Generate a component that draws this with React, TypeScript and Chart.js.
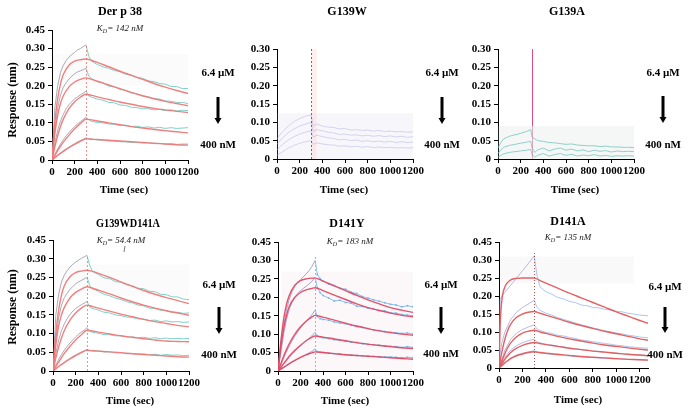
import React, { useEffect, useRef } from 'react';
import { Chart, registerables } from 'chart.js';

Chart.register(...registerables);

const FONT = '"Liberation Serif", "Times New Roman", Times, serif';
const W = 692;
const H = 414;
const AXW = 30;
const AXH = 30;

// ---------- tick labels ----------
const Y_LABELS_TALL = ['0', '0.05', '0.10', '0.15', '0.20', '0.25', '0.30', '0.45'];
const Y_LABELS_SHORT = ['0', '0.05', '0.10', '0.15', '0.20', '0.25', '0.30'];
const TITLES = ['Der p 38', 'G139W', 'G139A', 'G139WD141A', 'D141Y', 'D141A'];
const KD_TEXT = ['142 nM', '', '', '54.4 nM', '183 nM', '135 nM'];
const HIGH_CONC = '6.4 µM';
const LOW_CONC = '400 nM';

// ---------- Der p 38 ----------
const FIT_T1 = [0, 25, 50, 75, 100, 150, 200, 250, 300, 350, 400, 500, 600, 700, 800, 900, 1000, 1100, 1200];
const F1A = [0, 0.10, 0.165, 0.205, 0.23, 0.255, 0.266, 0.27, 0.272, 0.268, 0.263, 0.251, 0.239, 0.228, 0.217, 0.206, 0.196, 0.187, 0.179];
const F1B = [0, 0.07, 0.12, 0.152, 0.173, 0.197, 0.21, 0.217, 0.221, 0.217, 0.212, 0.202, 0.192, 0.182, 0.173, 0.165, 0.158, 0.152, 0.146];
const F1C = [0, 0.035, 0.065, 0.09, 0.11, 0.138, 0.157, 0.169, 0.177, 0.174, 0.17, 0.163, 0.156, 0.15, 0.144, 0.139, 0.135, 0.131, 0.128];
const F1D = [0, 0.012, 0.025, 0.037, 0.048, 0.067, 0.084, 0.098, 0.11, 0.108, 0.105, 0.1, 0.095, 0.09, 0.086, 0.082, 0.079, 0.076, 0.073];
const F1E = [0, 0.006, 0.012, 0.018, 0.023, 0.033, 0.042, 0.05, 0.057, 0.056, 0.055, 0.053, 0.051, 0.049, 0.047, 0.045, 0.043, 0.041, 0.04];

const MEAS_T1 = [0, 25, 50, 75, 100, 125, 150, 175, 200, 225, 250, 275, 300, 325, 350, 400, 450, 500, 550, 600, 650, 700, 750, 800, 850, 900, 950, 1000, 1050, 1100, 1150, 1200];
const M1A = [0, 0.14, 0.2, 0.236, 0.255, 0.268, 0.277, 0.284, 0.29, 0.296, 0.3, 0.305, 0.31, 0.279, 0.266, 0.257, 0.251, 0.247, 0.241, 0.238, 0.231, 0.229, 0.222, 0.22, 0.213, 0.211, 0.206, 0.204, 0.198, 0.198, 0.192, 0.193];
const M1B = [0, 0.08, 0.14, 0.175, 0.196, 0.208, 0.218, 0.226, 0.232, 0.237, 0.24, 0.243, 0.247, 0.226, 0.219, 0.211, 0.208, 0.199, 0.197, 0.19, 0.187, 0.18, 0.178, 0.172, 0.17, 0.165, 0.164, 0.159, 0.158, 0.155, 0.155, 0.152];
const M1C = [0, 0.045, 0.08, 0.105, 0.123, 0.138, 0.149, 0.157, 0.165, 0.17, 0.175, 0.18, 0.185, 0.172, 0.169, 0.164, 0.161, 0.155, 0.154, 0.148, 0.147, 0.142, 0.141, 0.138, 0.138, 0.135, 0.136, 0.133, 0.135, 0.132, 0.134, 0.133];
const M1D = [0, 0.015, 0.03, 0.043, 0.055, 0.065, 0.074, 0.083, 0.09, 0.097, 0.103, 0.109, 0.115, 0.108, 0.104, 0.101, 0.1, 0.097, 0.096, 0.093, 0.094, 0.09, 0.091, 0.088, 0.089, 0.086, 0.088, 0.085, 0.087, 0.085, 0.086, 0.087];
const M1E = [0, 0.006, 0.013, 0.019, 0.025, 0.03, 0.035, 0.04, 0.044, 0.049, 0.052, 0.056, 0.06, 0.057, 0.056, 0.054, 0.054, 0.051, 0.051, 0.049, 0.049, 0.047, 0.048, 0.046, 0.046, 0.044, 0.045, 0.043, 0.044, 0.042, 0.043, 0.043];

// ---------- G139W ----------
const MEAS_T2 = [0, 50, 100, 150, 200, 250, 300, 320, 350, 400, 450, 500, 550, 600, 650, 700, 750, 800, 850, 900, 950, 1000, 1050, 1100, 1150, 1200];
const M2A = [0.055, 0.075, 0.09, 0.102, 0.11, 0.117, 0.12, 0.09, 0.095, 0.09, 0.087, 0.086, 0.082, 0.083, 0.079, 0.08, 0.078, 0.079, 0.076, 0.078, 0.075, 0.076, 0.074, 0.075, 0.073, 0.074];
const M2B = [0.04, 0.058, 0.072, 0.082, 0.09, 0.095, 0.1, 0.075, 0.08, 0.077, 0.073, 0.071, 0.067, 0.068, 0.065, 0.066, 0.063, 0.065, 0.062, 0.064, 0.061, 0.063, 0.06, 0.062, 0.059, 0.061];
const M2C = [0.025, 0.04, 0.052, 0.061, 0.068, 0.073, 0.077, 0.06, 0.065, 0.061, 0.058, 0.056, 0.052, 0.054, 0.05, 0.052, 0.048, 0.05, 0.047, 0.049, 0.046, 0.048, 0.045, 0.047, 0.045, 0.046];
const M2D = [0.01, 0.02, 0.03, 0.037, 0.043, 0.047, 0.05, 0.04, 0.044, 0.041, 0.039, 0.038, 0.035, 0.036, 0.033, 0.035, 0.032, 0.034, 0.031, 0.033, 0.031, 0.032, 0.03, 0.031, 0.03, 0.031];

// ---------- G139A ----------
const MEAS_T3 = [0, 25, 50, 100, 150, 200, 250, 290, 300, 325, 350, 400, 450, 500, 550, 600, 650, 700, 750, 800, 850, 900, 950, 1000, 1050, 1100, 1150, 1200];
const M3A = [0.03, 0.045, 0.055, 0.062, 0.066, 0.07, 0.075, 0.08, 0.06, 0.055, 0.05, 0.048, 0.045, 0.044, 0.042, 0.04, 0.041, 0.038, 0.037, 0.036, 0.036, 0.034, 0.035, 0.033, 0.033, 0.032, 0.032, 0.031];
const M3B = [0.015, 0.025, 0.032, 0.037, 0.04, 0.043, 0.046, 0.048, 0.03, 0.018, 0.025, 0.03, 0.022, 0.027, 0.03, 0.024, 0.027, 0.022, 0.025, 0.02, 0.024, 0.021, 0.023, 0.019, 0.022, 0.02, 0.021, 0.02];
const M3C = [0.005, 0.01, 0.014, 0.018, 0.02, 0.022, 0.024, 0.026, 0.012, 0.005, 0.01, 0.015, 0.008, 0.012, 0.015, 0.01, 0.013, 0.008, 0.011, 0.009, 0.012, 0.008, 0.01, 0.007, 0.009, 0.008, 0.009, 0.008];

// ---------- G139WD141A ----------
const F4A = [0, 0.10, 0.163, 0.203, 0.228, 0.252, 0.263, 0.267, 0.269, 0.266, 0.261, 0.25, 0.238, 0.226, 0.215, 0.205, 0.196, 0.188, 0.18];
const F4B = [0, 0.07, 0.12, 0.15, 0.17, 0.195, 0.21, 0.219, 0.225, 0.221, 0.216, 0.206, 0.195, 0.185, 0.176, 0.168, 0.161, 0.155, 0.149];
const F4C = [0, 0.035, 0.064, 0.088, 0.108, 0.136, 0.155, 0.168, 0.176, 0.172, 0.168, 0.16, 0.152, 0.145, 0.138, 0.132, 0.127, 0.122, 0.118];
const F4D = [0, 0.012, 0.024, 0.036, 0.047, 0.066, 0.083, 0.097, 0.109, 0.107, 0.104, 0.099, 0.094, 0.09, 0.086, 0.083, 0.08, 0.079, 0.078];
const F4E = [0, 0.006, 0.012, 0.017, 0.022, 0.032, 0.041, 0.049, 0.055, 0.054, 0.053, 0.051, 0.049, 0.046, 0.044, 0.042, 0.04, 0.038, 0.037];
const M4A = [0, 0.15, 0.205, 0.238, 0.256, 0.268, 0.278, 0.285, 0.291, 0.296, 0.301, 0.305, 0.309, 0.281, 0.265, 0.258, 0.249, 0.247, 0.239, 0.237, 0.23, 0.228, 0.221, 0.22, 0.213, 0.212, 0.205, 0.204, 0.198, 0.198, 0.192, 0.191];
const M4B = [0, 0.082, 0.142, 0.176, 0.196, 0.208, 0.218, 0.226, 0.233, 0.238, 0.242, 0.246, 0.25, 0.228, 0.22, 0.213, 0.205, 0.201, 0.195, 0.191, 0.185, 0.182, 0.176, 0.174, 0.168, 0.167, 0.162, 0.161, 0.157, 0.157, 0.154, 0.155];
const M4C = [0, 0.047, 0.083, 0.108, 0.126, 0.14, 0.151, 0.16, 0.167, 0.172, 0.177, 0.181, 0.186, 0.17, 0.167, 0.163, 0.157, 0.155, 0.15, 0.148, 0.144, 0.143, 0.139, 0.139, 0.135, 0.136, 0.132, 0.134, 0.131, 0.132, 0.13, 0.131];
const M4D = [0, 0.016, 0.031, 0.044, 0.056, 0.066, 0.075, 0.083, 0.091, 0.098, 0.104, 0.109, 0.116, 0.106, 0.103, 0.101, 0.097, 0.097, 0.094, 0.094, 0.091, 0.091, 0.089, 0.09, 0.087, 0.089, 0.086, 0.088, 0.086, 0.087, 0.086, 0.087];
const M4E = [0, 0.006, 0.012, 0.018, 0.024, 0.029, 0.034, 0.039, 0.043, 0.047, 0.051, 0.054, 0.058, 0.055, 0.054, 0.054, 0.051, 0.051, 0.048, 0.049, 0.046, 0.047, 0.045, 0.046, 0.043, 0.045, 0.042, 0.044, 0.042, 0.043, 0.041, 0.042];

// ---------- D141Y ----------
const FIT_T5 = [0, 25, 50, 75, 100, 150, 200, 250, 300, 330, 400, 500, 600, 700, 800, 900, 1000, 1100, 1200];
const F5A = [0, 0.08, 0.14, 0.18, 0.205, 0.233, 0.245, 0.25, 0.252, 0.252, 0.244, 0.231, 0.218, 0.205, 0.193, 0.182, 0.172, 0.165, 0.159];
const F5B = [0, 0.065, 0.115, 0.15, 0.175, 0.2, 0.213, 0.22, 0.224, 0.226, 0.218, 0.206, 0.194, 0.182, 0.172, 0.164, 0.157, 0.151, 0.147];
const F5C = [0, 0.02, 0.04, 0.058, 0.074, 0.1, 0.12, 0.135, 0.146, 0.151, 0.146, 0.138, 0.13, 0.122, 0.115, 0.109, 0.104, 0.1, 0.097];
const F5D = [0, 0.01, 0.02, 0.03, 0.04, 0.056, 0.07, 0.082, 0.091, 0.095, 0.092, 0.087, 0.082, 0.077, 0.073, 0.069, 0.066, 0.063, 0.061];
const F5E = [0, 0.005, 0.01, 0.015, 0.02, 0.029, 0.037, 0.044, 0.049, 0.052, 0.05, 0.047, 0.044, 0.042, 0.04, 0.038, 0.036, 0.034, 0.032];
const MEAS_T5 = [0, 25, 50, 75, 100, 125, 150, 175, 200, 225, 250, 275, 300, 330, 350, 375, 400, 450, 500, 550, 600, 650, 700, 750, 800, 850, 900, 950, 1000, 1050, 1100, 1150, 1200];
const M5A = [0, 0.06, 0.12, 0.165, 0.195, 0.215, 0.23, 0.24, 0.248, 0.256, 0.263, 0.272, 0.283, 0.3, 0.262, 0.25, 0.244, 0.236, 0.232, 0.225, 0.222, 0.214, 0.21, 0.202, 0.198, 0.193, 0.189, 0.185, 0.181, 0.179, 0.174, 0.177, 0.174];
const M5B = [0, 0.05, 0.1, 0.14, 0.168, 0.187, 0.2, 0.21, 0.218, 0.224, 0.23, 0.236, 0.243, 0.255, 0.225, 0.212, 0.205, 0.198, 0.19, 0.192, 0.186, 0.184, 0.176, 0.175, 0.17, 0.168, 0.164, 0.163, 0.158, 0.157, 0.153, 0.152, 0.15];
const M5C = [0, 0.015, 0.035, 0.052, 0.068, 0.082, 0.095, 0.106, 0.117, 0.126, 0.135, 0.143, 0.152, 0.165, 0.148, 0.142, 0.14, 0.138, 0.133, 0.13, 0.128, 0.124, 0.12, 0.118, 0.115, 0.111, 0.11, 0.107, 0.105, 0.104, 0.102, 0.103, 0.1];
const M5D = [0, 0.008, 0.018, 0.027, 0.037, 0.045, 0.053, 0.061, 0.068, 0.075, 0.082, 0.089, 0.095, 0.105, 0.094, 0.092, 0.09, 0.088, 0.085, 0.083, 0.081, 0.078, 0.077, 0.074, 0.072, 0.071, 0.07, 0.068, 0.067, 0.066, 0.064, 0.066, 0.064];
const M5E = [0, 0.004, 0.009, 0.014, 0.019, 0.024, 0.028, 0.033, 0.037, 0.041, 0.045, 0.049, 0.053, 0.06, 0.052, 0.051, 0.05, 0.048, 0.047, 0.046, 0.044, 0.043, 0.042, 0.041, 0.04, 0.04, 0.039, 0.038, 0.038, 0.037, 0.036, 0.037, 0.036];

// ---------- D141A ----------
const FIT_T6 = [0, 10, 25, 50, 75, 100, 150, 200, 250, 300, 350, 400, 500, 600, 700, 800, 900, 1000, 1100, 1200, 1270];
const F6A = [0, 0.12, 0.19, 0.225, 0.238, 0.245, 0.249, 0.25, 0.25, 0.25, 0.243, 0.236, 0.222, 0.208, 0.195, 0.182, 0.169, 0.156, 0.144, 0.132, 0.124];
const F6B = [0, 0.02, 0.045, 0.08, 0.105, 0.122, 0.141, 0.15, 0.155, 0.157, 0.152, 0.147, 0.137, 0.127, 0.118, 0.11, 0.102, 0.095, 0.088, 0.081, 0.077];
const F6C = [0, 0.008, 0.02, 0.04, 0.057, 0.07, 0.087, 0.097, 0.102, 0.105, 0.1, 0.096, 0.088, 0.081, 0.075, 0.069, 0.064, 0.06, 0.056, 0.052, 0.05];
const F6D = [0, 0.005, 0.012, 0.024, 0.034, 0.043, 0.055, 0.063, 0.068, 0.071, 0.068, 0.065, 0.06, 0.055, 0.051, 0.047, 0.044, 0.041, 0.038, 0.036, 0.034];
const F6E = [0, 0.003, 0.007, 0.014, 0.02, 0.026, 0.034, 0.039, 0.043, 0.045, 0.043, 0.041, 0.038, 0.035, 0.032, 0.03, 0.028, 0.026, 0.024, 0.023, 0.022];
const MEAS_T6 = [0, 10, 25, 50, 100, 150, 200, 250, 300, 325, 350, 400, 450, 500, 550, 600, 650, 700, 750, 800, 850, 900, 950, 1000, 1050, 1100, 1150, 1200, 1270];
const M6A = [0, 0.19, 0.2, 0.21, 0.23, 0.25, 0.27, 0.29, 0.312, 0.255, 0.225, 0.212, 0.205, 0.196, 0.192, 0.185, 0.182, 0.175, 0.173, 0.168, 0.167, 0.163, 0.161, 0.157, 0.156, 0.152, 0.15, 0.147, 0.145];
const M6B = [0, 0.04, 0.07, 0.1, 0.135, 0.155, 0.168, 0.178, 0.188, 0.168, 0.16, 0.152, 0.147, 0.14, 0.135, 0.13, 0.125, 0.12, 0.116, 0.111, 0.108, 0.103, 0.101, 0.097, 0.095, 0.091, 0.089, 0.086, 0.084];
const M6C = [0, 0.01, 0.025, 0.05, 0.08, 0.097, 0.107, 0.114, 0.12, 0.108, 0.104, 0.099, 0.096, 0.091, 0.089, 0.085, 0.082, 0.078, 0.076, 0.073, 0.071, 0.068, 0.066, 0.063, 0.062, 0.059, 0.058, 0.056, 0.055];
const M6D = [0, 0.006, 0.015, 0.03, 0.05, 0.062, 0.07, 0.076, 0.08, 0.072, 0.07, 0.066, 0.064, 0.06, 0.059, 0.055, 0.054, 0.051, 0.05, 0.047, 0.046, 0.044, 0.043, 0.041, 0.04, 0.038, 0.037, 0.036, 0.035];
const M6E = [0, 0.003, 0.008, 0.016, 0.028, 0.036, 0.041, 0.045, 0.048, 0.044, 0.042, 0.04, 0.038, 0.036, 0.035, 0.033, 0.032, 0.031, 0.03, 0.029, 0.028, 0.027, 0.026, 0.025, 0.025, 0.024, 0.023, 0.023, 0.022];

// ---------- panel configuration (layout + styles) ----------
type Box = { x0: number; x1: number; y0: number; y1: number; color: string };
type VLine = { x: number; y0: number; y1: number; color: string; dash: number[] };
type PanelCfg = {
  idx: number;
  plot: { l: number; t: number; r: number; b: number };
  xMax: number;
  yMax: number;
  yLabels: string[];
  fitT: number[] | null;
  fits: number[][];
  fitColor: string;
  measT: number[];
  meas: number[][];
  assocColor: string;
  dissocColor: string;
  split: number;
  measPoints: boolean;
  boxes: Box[];
  vlines: VLine[];
  titleX: number; titleY: number; titleMaxW?: number;
  kdX: number; kdY: number; kdTick?: boolean;
  yTitle: boolean; yTitleX: number; yTitleY: number;
  xTitleX: number; xTitleY: number;
  sideX: number; hiY: number; arrowY0: number; arrowY1: number; loY: number;
};

const PANELS: PanelCfg[] = [
  {
    idx: 0, plot: { l: 52, t: 30, r: 188, b: 160 }, xMax: 1200, yMax: 0.35, yLabels: Y_LABELS_TALL,
    fitT: FIT_T1, fits: [F1A, F1B, F1C, F1D, F1E], fitColor: 'rgba(240,120,120,0.95)',
    measT: MEAS_T1, meas: [M1A, M1B, M1C, M1D, M1E], assocColor: 'rgba(150,150,165,0.8)', dissocColor: 'rgba(110,205,195,0.9)',
    split: 300, measPoints: false,
    boxes: [{ x0: 0, x1: 1200, y0: 0.2, y1: 0.285, color: 'rgba(0,0,0,0.015)' }],
    vlines: [{ x: 300, y0: 0, y1: 0.31, color: 'rgba(235,110,110,0.75)', dash: [2, 2] }],
    titleX: 120, titleY: 12, kdX: 120, kdY: 29,
    yTitle: true, yTitleX: 13, yTitleY: 100, xTitleX: 124, xTitleY: 190,
    sideX: 218, hiY: 73, arrowY0: 97, arrowY1: 124, loY: 145,
  },
  {
    idx: 1, plot: { l: 277, t: 49, r: 413, b: 159 }, xMax: 1200, yMax: 0.3, yLabels: Y_LABELS_SHORT,
    fitT: null, fits: [], fitColor: '#000',
    measT: MEAS_T2, meas: [M2A, M2B, M2C, M2D], assocColor: 'rgba(175,175,225,0.5)', dissocColor: 'rgba(175,175,225,0.5)',
    split: 300, measPoints: false,
    boxes: [
      { x0: 0, x1: 1200, y0: 0, y1: 0.125, color: 'rgba(200,200,225,0.14)' },
      { x0: 300, x1: 350, y0: 0, y1: 0.3, color: 'rgba(255,190,185,0.25)' },
    ],
    vlines: [{ x: 300, y0: 0, y1: 0.3, color: 'rgba(225,55,45,0.95)', dash: [2, 2] }],
    titleX: 347, titleY: 12, kdX: 0, kdY: 0,
    yTitle: false, yTitleX: 0, yTitleY: 0, xTitleX: 344, xTitleY: 190,
    sideX: 442, hiY: 73, arrowY0: 97, arrowY1: 124, loY: 145,
  },
  {
    idx: 2, plot: { l: 498, t: 49, r: 634, b: 159 }, xMax: 1200, yMax: 0.3, yLabels: Y_LABELS_SHORT,
    fitT: null, fits: [], fitColor: '#000',
    measT: MEAS_T3, meas: [M3A, M3B, M3C], assocColor: 'rgba(110,195,185,0.75)', dissocColor: 'rgba(110,195,185,0.75)',
    split: 300, measPoints: false,
    boxes: [{ x0: 0, x1: 1200, y0: 0, y1: 0.09, color: 'rgba(190,205,205,0.16)' }],
    vlines: [
      { x: 300, y0: 0.09, y1: 0.3, color: 'rgba(220,70,120,0.95)', dash: [] },
      { x: 300, y0: 0, y1: 0.09, color: 'rgba(200,120,150,0.6)', dash: [] },
    ],
    titleX: 567, titleY: 12, kdX: 0, kdY: 0,
    yTitle: false, yTitleX: 0, yTitleY: 0, xTitleX: 575, xTitleY: 190,
    sideX: 663, hiY: 73, arrowY0: 96, arrowY1: 123, loY: 145,
  },
  {
    idx: 3, plot: { l: 53, t: 240, r: 189, b: 371 }, xMax: 1200, yMax: 0.35, yLabels: Y_LABELS_TALL,
    fitT: FIT_T1, fits: [F4A, F4B, F4C, F4D, F4E], fitColor: 'rgba(240,120,120,0.95)',
    measT: MEAS_T1, meas: [M4A, M4B, M4C, M4D, M4E], assocColor: 'rgba(150,150,165,0.8)', dissocColor: 'rgba(110,205,195,0.9)',
    split: 300, measPoints: false,
    boxes: [{ x0: 0, x1: 1200, y0: 0.2, y1: 0.285, color: 'rgba(0,0,0,0.015)' }],
    vlines: [{ x: 300, y0: 0, y1: 0.31, color: 'rgba(235,110,110,0.75)', dash: [2, 2] }],
    titleX: 128, titleY: 224, titleMaxW: 64, kdX: 121, kdY: 241, kdTick: true,
    yTitle: true, yTitleX: 13, yTitleY: 307, xTitleX: 130, xTitleY: 401,
    sideX: 219, hiY: 285, arrowY0: 307, arrowY1: 334, loY: 355,
  },
  {
    idx: 4, plot: { l: 278, t: 242, r: 413, b: 371 }, xMax: 1200, yMax: 0.35, yLabels: Y_LABELS_TALL,
    fitT: FIT_T5, fits: [F5A, F5B, F5C, F5D, F5E], fitColor: 'rgba(225,75,100,0.95)',
    measT: MEAS_T5, meas: [M5A, M5B, M5C, M5D, M5E], assocColor: 'rgba(150,140,200,0.8)', dissocColor: 'rgba(110,175,235,0.8)',
    split: 330, measPoints: true,
    boxes: [{ x0: 30, x1: 1200, y0: 0, y1: 0.27, color: 'rgba(240,215,230,0.18)' }],
    vlines: [{ x: 330, y0: 0, y1: 0.31, color: 'rgba(240,160,100,0.95)', dash: [2, 2] }],
    titleX: 347, titleY: 224, kdX: 350, kdY: 242,
    yTitle: false, yTitleX: 0, yTitleY: 0, xTitleX: 345, xTitleY: 401,
    sideX: 441, hiY: 285, arrowY0: 307, arrowY1: 334, loY: 354,
  },
  {
    idx: 5, plot: { l: 499, t: 242, r: 648, b: 368 }, xMax: 1270, yMax: 0.35, yLabels: Y_LABELS_TALL,
    fitT: FIT_T6, fits: [F6A, F6B, F6C, F6D, F6E], fitColor: 'rgba(225,90,90,0.95)',
    measT: MEAS_T6, meas: [M6A, M6B, M6C, M6D, M6E], assocColor: 'rgba(170,165,225,0.8)', dissocColor: 'rgba(150,185,240,0.8)',
    split: 300, measPoints: false,
    boxes: [{ x0: 0, x1: 1150, y0: 0.235, y1: 0.31, color: 'rgba(0,0,0,0.025)' }],
    vlines: [{ x: 300, y0: 0, y1: 0.32, color: 'rgba(190,60,60,0.9)', dash: [1, 2] }],
    titleX: 568, titleY: 222, kdX: 568, kdY: 238,
    yTitle: false, yTitleX: 0, yTitleY: 0, xTitleX: 578, xTitleY: 400,
    sideX: 665, hiY: 287, arrowY0: 307, arrowY1: 333, loY: 355,
  },
];

function pair(t: number[], v: number[]) {
  const n = Math.min(t.length, v.length);
  const out: { x: number; y: number }[] = [];
  for (let i = 0; i < n; i++) out.push({ x: t[i], y: v[i] });
  return out;
}

function drawKd(ctx: CanvasRenderingContext2D, text: string, cx: number, cy: number) {
  const f1 = `italic 9px ${FONT}`;
  const f2 = `italic 6px ${FONT}`;
  ctx.font = f1;
  const wK = ctx.measureText('K').width;
  const rest = '= ' + text;
  const wR = ctx.measureText(rest).width;
  ctx.font = f2;
  const wD = ctx.measureText('D').width;
  let x = cx - (wK + wD + wR) / 2;
  ctx.textAlign = 'left';
  ctx.textBaseline = 'middle';
  ctx.fillStyle = '#222';
  ctx.font = f1;
  ctx.fillText('K', x, cy);
  x += wK;
  ctx.font = f2;
  ctx.fillText('D', x, cy + 2);
  x += wD;
  ctx.font = f1;
  ctx.fillText(rest, x, cy);
}

function makePlugins(p: PanelCfg) {
  const shading = {
    id: 'shading' + p.idx,
    beforeDatasetsDraw(chart: any) {
      const { ctx, scales } = chart;
      const xs = scales.x;
      const ys = scales.y;
      ctx.save();
      p.boxes.forEach((b) => {
        const x0 = xs.getPixelForValue(b.x0);
        const x1 = xs.getPixelForValue(b.x1);
        const y0 = ys.getPixelForValue(b.y0);
        const y1 = ys.getPixelForValue(b.y1);
        ctx.fillStyle = b.color;
        ctx.fillRect(x0, y1, x1 - x0, y0 - y1);
      });
      ctx.restore();
    },
    afterDatasetsDraw(chart: any) {
      const { ctx, scales } = chart;
      const xs = scales.x;
      const ys = scales.y;
      ctx.save();
      p.vlines.forEach((v) => {
        const x = Math.round(xs.getPixelForValue(v.x)) + 0.5;
        ctx.strokeStyle = v.color;
        ctx.lineWidth = 1;
        ctx.setLineDash(v.dash);
        ctx.beginPath();
        ctx.moveTo(x, ys.getPixelForValue(v.y0));
        ctx.lineTo(x, ys.getPixelForValue(v.y1));
        ctx.stroke();
      });
      ctx.restore();
    },
  };
  const texts = {
    id: 'texts' + p.idx,
    afterDraw(chart: any) {
      const ctx: CanvasRenderingContext2D = chart.ctx;
      ctx.save();
      ctx.fillStyle = '#000';
      ctx.textAlign = 'center';
      ctx.textBaseline = 'middle';
      ctx.font = `bold 12px ${FONT}`;
      if (p.titleMaxW) ctx.fillText(TITLES[p.idx], p.titleX, p.titleY, p.titleMaxW);
      else ctx.fillText(TITLES[p.idx], p.titleX, p.titleY);
      if (KD_TEXT[p.idx]) {
        drawKd(ctx, KD_TEXT[p.idx], p.kdX, p.kdY);
        if (p.kdTick) {
          ctx.strokeStyle = '#555';
          ctx.lineWidth = 0.8;
          ctx.beginPath();
          ctx.moveTo(p.kdX + 4, p.kdY + 5);
          ctx.lineTo(p.kdX + 3, p.kdY + 11);
          ctx.stroke();
        }
      }
      ctx.fillStyle = '#000';
      ctx.textAlign = 'center';
      ctx.textBaseline = 'middle';
      if (p.yTitle) {
        ctx.save();
        ctx.translate(p.yTitleX, p.yTitleY);
        ctx.rotate(-Math.PI / 2);
        ctx.font = `bold 12px ${FONT}`;
        ctx.fillText('Response (nm)', 0, 0);
        ctx.restore();
      }
      ctx.font = `bold 11px ${FONT}`;
      ctx.fillText('Time (sec)', p.xTitleX, p.xTitleY);
      ctx.font = `bold 11px ${FONT}`;
      ctx.fillText(HIGH_CONC, p.sideX, p.hiY);
      ctx.fillText(LOW_CONC, p.sideX, p.loY);
      // arrow
      const head = 6;
      ctx.fillRect(p.sideX - 1.5, p.arrowY0, 3, p.arrowY1 - p.arrowY0 - head);
      ctx.beginPath();
      ctx.moveTo(p.sideX - 3.5, p.arrowY1 - head);
      ctx.lineTo(p.sideX + 3.5, p.arrowY1 - head);
      ctx.lineTo(p.sideX, p.arrowY1);
      ctx.closePath();
      ctx.fill();
      ctx.restore();
    },
  };
  return [shading, texts];
}

function buildConfig(p: PanelCfg): any {
  const datasets: any[] = [];
  if (p.fitT) {
    p.fits.forEach((f) => {
      datasets.push({
        data: pair(p.fitT as number[], f),
        borderColor: p.fitColor,
        borderWidth: 1.4,
        pointRadius: 0,
        cubicInterpolationMode: 'monotone',
        fill: false,
        order: 0,
      });
    });
  }
  p.meas.forEach((m) => {
    datasets.push({
      data: pair(p.measT, m),
      borderColor: p.dissocColor,
      borderWidth: 1,
      pointRadius: p.measPoints ? (c: any) => (c.raw && c.raw.x > p.split ? 1 : 0) : 0,
      pointBackgroundColor: p.dissocColor,
      pointBorderWidth: 0,
      tension: 0,
      fill: false,
      order: 1,
      segment: {
        borderColor: (c: any) => (c.p0.parsed.x >= p.split ? p.dissocColor : p.assocColor),
      },
    });
  });

  const tickFont = { family: FONT, size: 11, weight: 'bold' as const };
  const fixW = (s: any) => {
    s.width = AXW;
    s.paddingLeft = 0; s.paddingRight = 0; s.paddingTop = 0; s.paddingBottom = 0;
  };
  const fixH = (s: any) => {
    s.height = AXH;
    s.paddingLeft = 0; s.paddingRight = 0; s.paddingTop = 0; s.paddingBottom = 0;
  };

  return {
    type: 'line',
    data: { datasets },
    plugins: makePlugins(p),
    options: {
      responsive: false,
      animation: false,
      events: [],
      layout: {
        padding: {
          left: p.plot.l - AXW,
          top: p.plot.t,
          right: W - p.plot.r,
          bottom: H - p.plot.b - AXH,
        },
      },
      plugins: {
        legend: { display: false },
        tooltip: { enabled: false },
        title: { display: false },
      },
      scales: {
        x: {
          type: 'linear',
          min: 0,
          max: p.xMax,
          afterFit: fixH,
          border: { display: true, color: '#000', width: 1 },
          grid: { display: true, drawOnChartArea: false, drawTicks: true, tickLength: 4, color: '#000' },
          ticks: {
            stepSize: 200,
            autoSkip: false,
            maxRotation: 0,
            minRotation: 0,
            includeBounds: false,
            color: '#000',
            padding: 2,
            font: tickFont,
            callback: (v: number) => String(Math.round(v)),
          },
        },
        y: {
          type: 'linear',
          min: 0,
          max: p.yMax,
          afterFit: fixW,
          border: { display: true, color: '#000', width: 1 },
          grid: { display: true, drawOnChartArea: false, drawTicks: true, tickLength: 4, color: '#000' },
          ticks: {
            stepSize: 0.05,
            autoSkip: false,
            includeBounds: false,
            color: '#000',
            padding: 3,
            font: tickFont,
            callback: (v: number) => p.yLabels[Math.round(v / 0.05)] ?? '',
          },
        },
      },
    },
  };
}

export default function App() {
  const refs = useRef<(HTMLCanvasElement | null)[]>([]);

  useEffect(() => {
    const charts: Chart[] = [];
    PANELS.forEach((p, i) => {
      const cv = refs.current[i];
      if (!cv) return;
      charts.push(new Chart(cv, buildConfig(p)));
    });
    return () => charts.forEach((c) => c.destroy());
  }, []);

  return (
    <div
      style={{
        position: 'absolute',
        left: 0,
        top: 0,
        width: W,
        height: H,
        background: '#fff',
        overflow: 'hidden',
      }}
    >
      {PANELS.map((p, i) => (
        <canvas
          key={p.idx}
          ref={(el) => {
            refs.current[i] = el;
          }}
          width={W}
          height={H}
          style={{ position: 'absolute', left: 0, top: 0, width: W, height: H }}
        />
      ))}
    </div>
  );
}
